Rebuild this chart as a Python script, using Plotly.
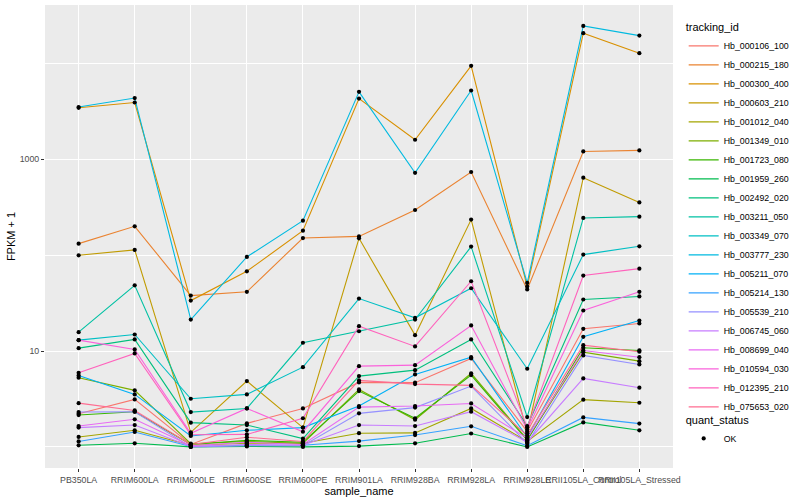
import plotly.graph_objects as go

samples = ["PB350LA", "RRIM600LA", "RRIM600LE", "RRIM600SE", "RRIM600PE", "RRIM901LA",
           "RRIM928BA", "RRIM928LA", "RRIM928LE", "RRII105LA_Control", "RRII105LA_Stressed"]

tracking_ids = ["Hb_000106_100", "Hb_000215_180", "Hb_000300_400", "Hb_000603_210", "Hb_001012_040",
                "Hb_001349_010", "Hb_001723_080", "Hb_001959_260", "Hb_002492_020", "Hb_003211_050",
                "Hb_003349_070", "Hb_003777_230", "Hb_005211_070", "Hb_005214_130", "Hb_005539_210",
                "Hb_006745_060", "Hb_008699_040", "Hb_010594_030", "Hb_012395_210", "Hb_075653_020"]

colors = ["#F8766D", "#EA8331", "#D89000", "#C09B00", "#A3A500", "#7CAE00", "#39B600", "#00BB4E",
          "#00BF7D", "#00C1A3", "#00BFC4", "#00BAE0", "#00B0F6", "#35A2FF", "#9590FF", "#C77CFF",
          "#E76BF3", "#FA62DB", "#FF62BC", "#FF6C91"]

# FPKM values per gene (one value per sample)
hb_000106_100 = [1.22, 2.13, 0.06, 0.76, 1.52, 3.71, 3.68, 7.37, 0.45, 16.06, 18.39]
hb_000215_180 = [131, 199, 36.9, 40.5, 150, 156, 295, 737, 42.9, 1207, 1238]
hb_000300_400 = [3446, 3916, 32.6, 66.9, 179, 4304, 1599, 9440, 46.1, 20700, 12793]
hb_000603_210 = [98.8, 112.5, 0.42, 3.86, 0.59, 149, 13.65, 234, 0.39, 642, 354.6]
hb_001012_040 = [0.27, 0.49, 0.04, 0.09, 0.09, 0.39, 0.40, 1.52, 0.14, 2.11, 1.89]
hb_001349_010 = [4.27, 2.89, 0.08, 0.14, 0.09, 2.98, 0.92, 4.85, 0.20, 8.74, 6.85]
hb_001723_080 = [1.15, 1.33, 0.06, 0.17, 0.12, 2.82, 0.99, 4.61, 0.17, 9.82, 9.14]
hb_001959_260 = [0.04, 0.09, 0.0, 0.01, 0.0, 0.02, 0.09, 0.38, 0.0, 0.80, 0.49]
hb_002492_020 = [9.72, 12.21, 0.79, 0.69, 0.22, 4.48, 5.32, 12.21, 0.65, 33.5, 36.1]
hb_003211_050 = [14.74, 47.5, 1.31, 1.52, 11.2, 15.1, 20.3, 121.9, 1.05, 243.7, 251.5]
hb_003349_070 = [11.99, 13.89, 2.18, 2.53, 5.79, 34.3, 21.2, 44.2, 5.54, 100.4, 122.8]
hb_003777_230 = [3507, 4354, 20.3, 95, 228, 5057, 723, 5223, 50.4, 24659, 19539]
hb_005211_070 = [4.57, 2.53, 0.30, 0.49, 0.59, 1.67, 4.70, 7.63, 0.26, 13.09, 19.84]
hb_005214_130 = [0.14, 0.43, 0.01, 0.04, 0.04, 0.15, 0.33, 0.64, 0.03, 1.03, 0.75]
hb_005539_210 = [1.31, 1.33, 0.0, 0.03, 0.03, 1.24, 1.57, 3.31, 0.09, 8.0, 6.25]
hb_006745_060 = [0.59, 0.69, 0.01, 0.06, 0.04, 0.69, 0.65, 1.33, 0.12, 4.18, 3.15]
hb_008699_040 = [0.65, 0.94, 0.03, 0.12, 0.06, 1.60, 1.67, 1.84, 0.23, 9.14, 7.63]
hb_010594_030 = [11.99, 9.39, 0.39, 1.52, 0.44, 5.96, 6.13, 17.49, 0.52, 25.5, 40.5]
hb_012395_210 = [4.94, 8.44, 0.34, 0.35, 0.99, 17.16, 10.17, 52.5, 0.60, 60.3, 71.4]
hb_075653_020 = [1.86, 1.40, 0.06, 0.26, 0.14, 3.94, 3.52, 3.38, 0.32, 10.52, 8.84]

series = [hb_000106_100, hb_000215_180, hb_000300_400, hb_000603_210, hb_001012_040,
          hb_001349_010, hb_001723_080, hb_001959_260, hb_002492_020, hb_003211_050,
          hb_003349_070, hb_003777_230, hb_005211_070, hb_005214_130, hb_005539_210,
          hb_006745_060, hb_008699_040, hb_010594_030, hb_012395_210, hb_075653_020]

quant_status = "OK"

FONT = "Liberation Sans, Arial, sans-serif"

fig = go.Figure()
for name, col, vals in zip(tracking_ids, colors, series):
    fig.add_trace(go.Scatter(
        x=samples, y=[v + 1 for v in vals], mode="lines", name=name,
        line=dict(color=col, width=1.1), legend="legend", hoverinfo="skip"))

all_x, all_y = [], []
for vals in series:
    all_x.extend(samples)
    all_y.extend([v + 1 for v in vals])
fig.add_trace(go.Scatter(
    x=all_x, y=all_y, mode="markers", name=quant_status, legend="legend2",
    marker=dict(color="black", size=4.2, symbol="circle"), hoverinfo="skip"))

fig.update_layout(
    width=800, height=500,
    margin=dict(l=45, r=117, t=5, b=32),
    paper_bgcolor="white", plot_bgcolor="#EBEBEB",
    font=dict(family=FONT, color="black"),
    showlegend=True,
    hovermode=False,
    legend=dict(
        title=dict(text="tracking_id", font=dict(size=11, color="black")),
        font=dict(size=8.8, color="black"),
        x=1.017, xanchor="left", y=0.974, yanchor="top",
        bgcolor="rgba(0,0,0,0)", itemwidth=30, tracegroupgap=0),
    legend2=dict(
        title=dict(text="quant_status", font=dict(size=11, color="black")),
        font=dict(size=8.8, color="black"),
        x=1.017, xanchor="left", y=0.126, yanchor="top",
        bgcolor="rgba(0,0,0,0)", itemwidth=30),
)

fig.update_xaxes(
    type="category", categoryorder="array", categoryarray=samples,
    range=[-0.6, len(samples) - 0.4],
    showgrid=True, gridcolor="white", gridwidth=1.1,
    zeroline=False, showline=False,
    ticks="outside", ticklen=3, tickcolor="#333333", tickwidth=1,
    tickangle=0, tickfont=dict(size=8.8, color="#4D4D4D", family=FONT),
    title=dict(text="sample_name", font=dict(size=11, color="black"), standoff=2),
)

fig.update_yaxes(
    type="log", range=[-0.22, 4.61],
    tickvals=[10, 1000], ticktext=["10", "1000"],
    showgrid=True, gridcolor="white", gridwidth=1.1,
    minor=dict(tickvals=[1, 100, 10000], showgrid=True, gridcolor="white", gridwidth=0.55),
    zeroline=False, showline=False,
    ticks="outside", ticklen=3, tickcolor="#333333", tickwidth=1,
    tickfont=dict(size=8.8, color="#4D4D4D", family=FONT),
    title=dict(text="FPKM + 1", font=dict(size=11, color="black"), standoff=1),
)

fig.write_html("out.html", config={"displayModeBar": False},
               post_script="document.body.style.margin='0';")
